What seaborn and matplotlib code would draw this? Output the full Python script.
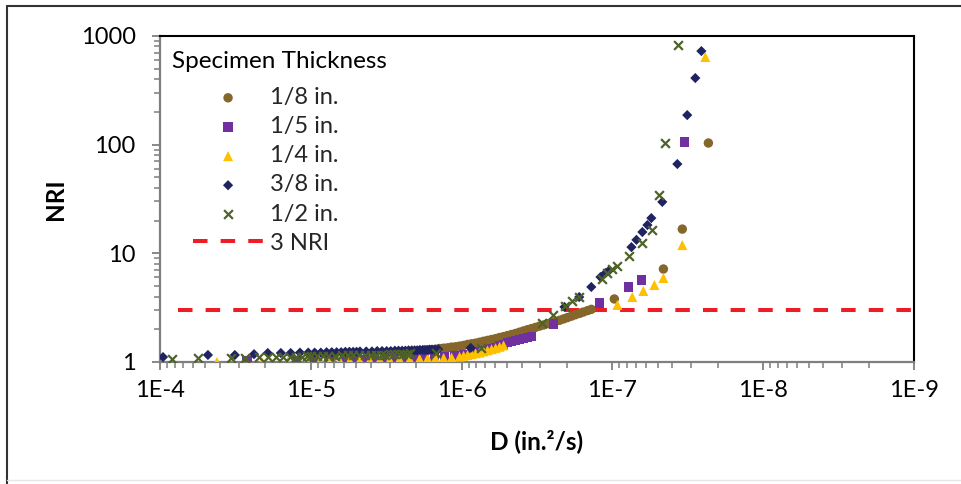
import matplotlib
matplotlib.use("Agg")
import matplotlib.pyplot as plt
from matplotlib.lines import Line2D
from matplotlib.ticker import FixedLocator, FixedFormatter, LogLocator, NullFormatter
import pandas as pd
import seaborn as sns

# ---------------------------------------------------------------- data
thickness_labels = ["1/8 in.", "1/5 in.", "1/4 in.", "3/8 in.", "1/2 in."]

# 1/8 in. specimen: diffusivity D (in.^2/s) and NRI
d_eighth = [1.0e-5, 7.0e-6, 5.0e-6, 4.0e-6, 3.2e-6, 2.6e-6, 2.2e-6,
            1.897e-6, 1.785e-6, 1.679e-6, 1.580e-6, 1.487e-6, 1.398e-6, 1.316e-6, 1.238e-6, 1.165e-6, 1.096e-6,
            1.031e-6, 9.70e-7, 9.13e-7, 8.59e-7, 8.08e-7, 7.60e-7, 7.15e-7, 6.73e-7, 6.33e-7, 5.95e-7,
            5.60e-7, 5.27e-7, 4.96e-7, 4.67e-7, 4.39e-7, 4.13e-7, 3.89e-7, 3.66e-7, 3.44e-7, 3.24e-7,
            3.04e-7, 2.86e-7, 2.69e-7, 2.53e-7, 2.38e-7, 2.24e-7, 2.11e-7, 1.99e-7, 1.87e-7, 1.76e-7,
            1.65e-7, 1.56e-7, 1.46e-7, 1.38e-7,
            9.71e-8, 4.59e-8, 3.44e-8, 2.31e-8]
nri_eighth = [1.10, 1.13, 1.16, 1.18, 1.20, 1.23, 1.25,
              1.27, 1.28, 1.29, 1.30, 1.31, 1.33, 1.34, 1.35, 1.37, 1.38,
              1.40, 1.42, 1.45, 1.47, 1.49, 1.52, 1.55, 1.58, 1.61, 1.64,
              1.68, 1.71, 1.75, 1.79, 1.83, 1.88, 1.93, 1.98, 2.03, 2.08,
              2.14, 2.19, 2.25, 2.30, 2.36, 2.42, 2.49, 2.56, 2.64, 2.72,
              2.80, 2.88, 2.97, 3.05,
              3.80, 7.17, 16.7, 103.5]

# 1/5 in. specimen
d_fifth = [2.65e-5, 1.24e-5, 9.4e-6, 7.48e-6, 5.95e-6, 5.11e-6, 4.39e-6, 3.77e-6, 3.24e-6, 2.78e-6,
           2.38e-6, 2.05e-6, 1.76e-6, 1.51e-6, 1.30e-6, 1.11e-6,
           1.031e-6, 9.70e-7, 9.13e-7, 8.59e-7, 8.08e-7, 7.60e-7, 7.15e-7, 6.73e-7, 6.33e-7, 5.95e-7,
           5.60e-7, 5.27e-7, 4.96e-7, 4.67e-7, 4.39e-7, 4.13e-7, 3.89e-7, 3.66e-7, 3.44e-7,
           2.46e-7, 1.22e-7, 7.83e-8, 6.43e-8, 3.33e-8]
nri_fifth = [1.02, 1.03, 1.03, 1.04, 1.04, 1.05, 1.05, 1.06, 1.07, 1.08,
             1.09, 1.10, 1.11, 1.12, 1.13, 1.14,
             1.15, 1.17, 1.18, 1.20, 1.22, 1.24, 1.26, 1.29, 1.33, 1.37,
             1.41, 1.45, 1.50, 1.54, 1.58, 1.62, 1.65, 1.68, 1.71,
             2.24, 3.49, 4.90, 5.68, 105.7]

# 1/4 in. specimen
d_quarter = [4.19e-5, 2.11e-5, 1.42e-5, 1.06e-5, 8.71e-6, 7.48e-6, 6.43e-6, 5.52e-6, 4.74e-6, 4.07e-6,
             3.49e-6, 3.00e-6, 2.58e-6, 2.21e-6, 1.90e-6, 1.68e-6, 1.49e-6,
             1.316e-6, 1.165e-6, 1.031e-6, 9.70e-7, 9.13e-7, 8.59e-7, 8.08e-7, 7.60e-7, 7.15e-7, 6.73e-7,
             6.33e-7, 5.95e-7, 5.60e-7, 5.27e-7,
             9.27e-8, 7.38e-8, 6.24e-8, 5.27e-8, 4.59e-8, 3.44e-8, 2.42e-8]
nri_quarter = [1.00, 1.00, 1.01, 1.01, 1.02, 1.02, 1.03, 1.03, 1.04, 1.04,
               1.05, 1.05, 1.06, 1.06, 1.07, 1.08, 1.08,
               1.09, 1.10, 1.12, 1.14, 1.16, 1.18, 1.20, 1.22, 1.25, 1.28,
               1.31, 1.34, 1.38, 1.42,
               3.35, 3.96, 4.50, 5.11, 5.93, 11.9, 640]

# 3/8 in. specimen
d_three_eighths = [9.55e-5, 4.81e-5, 3.19e-5, 2.38e-5, 1.93e-5, 1.58e-5, 1.36e-5, 1.18e-5, 1.04e-5,
                   9.43e-6, 8.58e-6, 7.86e-6, 7.26e-6, 6.74e-6, 6.29e-6, 5.90e-6, 5.55e-6, 5.24e-6, 4.97e-6,
                   4.72e-6, 4.29e-6, 3.93e-6, 3.63e-6, 3.37e-6, 3.14e-6, 2.95e-6, 2.77e-6, 2.62e-6, 2.48e-6,
                   2.36e-6, 2.25e-6, 2.14e-6, 2.05e-6, 1.97e-6, 1.89e-6, 1.81e-6, 1.75e-6, 1.69e-6, 1.63e-6,
                   1.57e-6, 1.50e-6, 1.43e-6,
                   8.7e-7, 2.08e-7, 1.66e-7, 1.38e-7, 1.20e-7, 1.11e-7, 1.06e-7, 7.48e-8, 6.93e-8, 6.33e-8,
                   5.86e-8, 5.52e-8, 4.67e-8, 3.71e-8, 3.19e-8, 2.82e-8, 2.57e-8]
nri_three_eighths = [1.11, 1.16, 1.16, 1.18, 1.21, 1.21, 1.21, 1.22, 1.22,
                     1.22, 1.22, 1.23, 1.23, 1.23, 1.23, 1.24, 1.24, 1.24, 1.24,
                     1.25, 1.25, 1.25, 1.26, 1.26, 1.26, 1.26, 1.27, 1.27, 1.27,
                     1.27, 1.28, 1.28, 1.28, 1.28, 1.29, 1.29, 1.29, 1.29, 1.30,
                     1.30, 1.30, 1.31,
                     1.35, 3.21, 3.96, 4.90, 6.05, 6.59, 6.87, 11.4, 13.3, 15.7,
                     18.2, 21.1, 29.7, 66.3, 187, 410, 726]

# 1/2 in. specimen
d_half = [8.33e-5, 5.60e-5, 3.39e-5, 2.73e-5, 2.21e-5, 1.93e-5,
          1.69e-5, 1.52e-5, 1.37e-5, 1.25e-5, 1.15e-5, 1.06e-5, 9.9e-6, 9.1e-6, 8.3e-6, 7.7e-6,
          6.9e-6, 6.25e-6, 5.7e-6, 5.25e-6, 4.8e-6, 4.35e-6, 4.0e-6, 3.7e-6, 3.45e-6, 3.2e-6,
          3.0e-6, 2.8e-6, 2.6e-6, 2.45e-6, 2.3e-6, 2.2e-6,
          1.47e-6, 7.48e-7, 2.95e-7, 2.49e-7, 2.05e-7, 1.84e-7, 1.66e-7, 1.18e-7, 1.08e-7, 1.00e-7,
          9.27e-8, 7.71e-8, 6.33e-8, 5.43e-8, 4.89e-8, 4.46e-8, 3.65e-8]
nri_half = [1.07, 1.08, 1.09, 1.09, 1.10, 1.11,
            1.11, 1.11, 1.12, 1.12, 1.12, 1.13, 1.13, 1.13, 1.14, 1.14,
            1.14, 1.15, 1.15, 1.15, 1.16, 1.16, 1.16, 1.17, 1.17, 1.17,
            1.18, 1.18, 1.18, 1.19, 1.19, 1.20,
            1.21, 1.35, 2.29, 2.71, 3.27, 3.64, 3.96, 5.80, 6.59, 7.17,
            7.64, 9.44, 12.4, 16.4, 34.4, 103.5, 825]

nri_threshold = 3
threshold_label = "3 NRI"

x_tick_values = [1e-4, 1e-5, 1e-6, 1e-7, 1e-8, 1e-9]
x_tick_labels = ["1E-4", "1E-5", "1E-6", "1E-7", "1E-8", "1E-9"]
y_tick_values = [1, 10, 100, 1000]
y_tick_labels = ["1", "10", "100", "1000"]

# ---------------------------------------------------------------- style
sns.set_theme(style="white")
plt.rcParams["font.family"] = ["Lato", "DejaVu Sans"]

series = [
    (d_eighth, nri_eighth, "o", "#85672C", 46),
    (d_fifth, nri_fifth, "s", "#7030A0", 44),
    (d_quarter, nri_quarter, "^", "#FFC000", 52),
    (d_three_eighths, nri_three_eighths, "D", "#1F2362", 27),
    (d_half, nri_half, "x", "#4F6228", 40),
]

fig = plt.figure(figsize=(9.61, 4.84), dpi=100)
ax = fig.add_axes([0.1665, 0.2521, 0.7846, 0.6736])

for label, (dvals, nvals, marker, color, size) in zip(thickness_labels, series):
    frame = pd.DataFrame({"D": dvals, "NRI": nvals})
    if marker == "x":
        sns.scatterplot(data=frame, x="D", y="NRI", marker=marker, color=color, s=size,
                        linewidth=1.6, label=label, ax=ax, zorder=3)
    else:
        sns.scatterplot(data=frame, x="D", y="NRI", marker=marker, color=color, s=size,
                        linewidth=0, edgecolor="none", label=label, ax=ax, zorder=3)

ax.axhline(nri_threshold, xmin=0.024, xmax=1.0, color="#EE1C25", lw=2.9,
           dashes=(3.6, 3.26), label=threshold_label, zorder=2)

# ---------------------------------------------------------------- axes
ax.set_xscale("log")
ax.set_yscale("log")
ax.set_xlim(1e-4, 1e-9)
ax.set_ylim(1, 1000)

ax.xaxis.set_major_locator(FixedLocator(x_tick_values))
ax.xaxis.set_major_formatter(FixedFormatter(x_tick_labels))
ax.xaxis.set_minor_locator(LogLocator(base=10, subs=range(2, 10), numticks=30))
ax.xaxis.set_minor_formatter(NullFormatter())
ax.yaxis.set_major_locator(FixedLocator(y_tick_values))
ax.yaxis.set_major_formatter(FixedFormatter(y_tick_labels))
ax.yaxis.set_minor_locator(LogLocator(base=10, subs=range(2, 10), numticks=30))
ax.yaxis.set_minor_formatter(NullFormatter())

ax.tick_params(which="both", direction="out", bottom=True, left=True, top=False, right=False,
               color="#7F7F7F")
ax.tick_params(which="major", length=6, width=1.3, labelsize=17, labelcolor="black")
ax.tick_params(which="minor", length=4.5, width=1.1)
ax.tick_params(axis="x", which="major", pad=7)
ax.tick_params(axis="y", which="major", pad=11.5)

for side in ("left", "bottom"):
    ax.spines[side].set_color("#7F7F7F")
    ax.spines[side].set_linewidth(1.6)
for side in ("top", "right"):
    ax.spines[side].set_color("black")
    ax.spines[side].set_linewidth(1.5)
ax.grid(False)

ax.set_xlabel("D (in.²/s)", fontsize=17.5, fontweight="bold", color="black")
ax.set_ylabel("NRI", fontsize=17.5, fontweight="bold", color="black")
ax.xaxis.set_label_coords(0.5, -0.205)
ax.yaxis.set_label_coords(-0.123, 0.5)

# ---------------------------------------------------------------- legend
fig.text(172 / 961, 1 - 62 / 484, "Specimen Thickness", fontsize=17.5, ha="left", va="center",
         color="black")
ax.legend(loc="upper left", bbox_to_anchor=(193 / 961, 1 - 87 / 484), bbox_transform=fig.transFigure,
          frameon=False, fontsize=17, handlelength=2.97, handletextpad=0.3, labelspacing=0.345,
          borderpad=0, borderaxespad=0, scatterpoints=1)

# outer frame of the figure
fig.add_artist(Line2D([7 / 961, 7 / 961], [0, 1 - 6 / 484], transform=fig.transFigure,
                      color="#333333", lw=1.5))
fig.add_artist(Line2D([7 / 961, 1], [1 - 6 / 484, 1 - 6 / 484], transform=fig.transFigure,
                      color="#333333", lw=1.5))
fig.add_artist(Line2D([7 / 961, 1], [4 / 484, 4 / 484], transform=fig.transFigure,
                      color="#E6E6E6", lw=1.0))

fig.savefig("out.png", dpi=100, facecolor="white")
